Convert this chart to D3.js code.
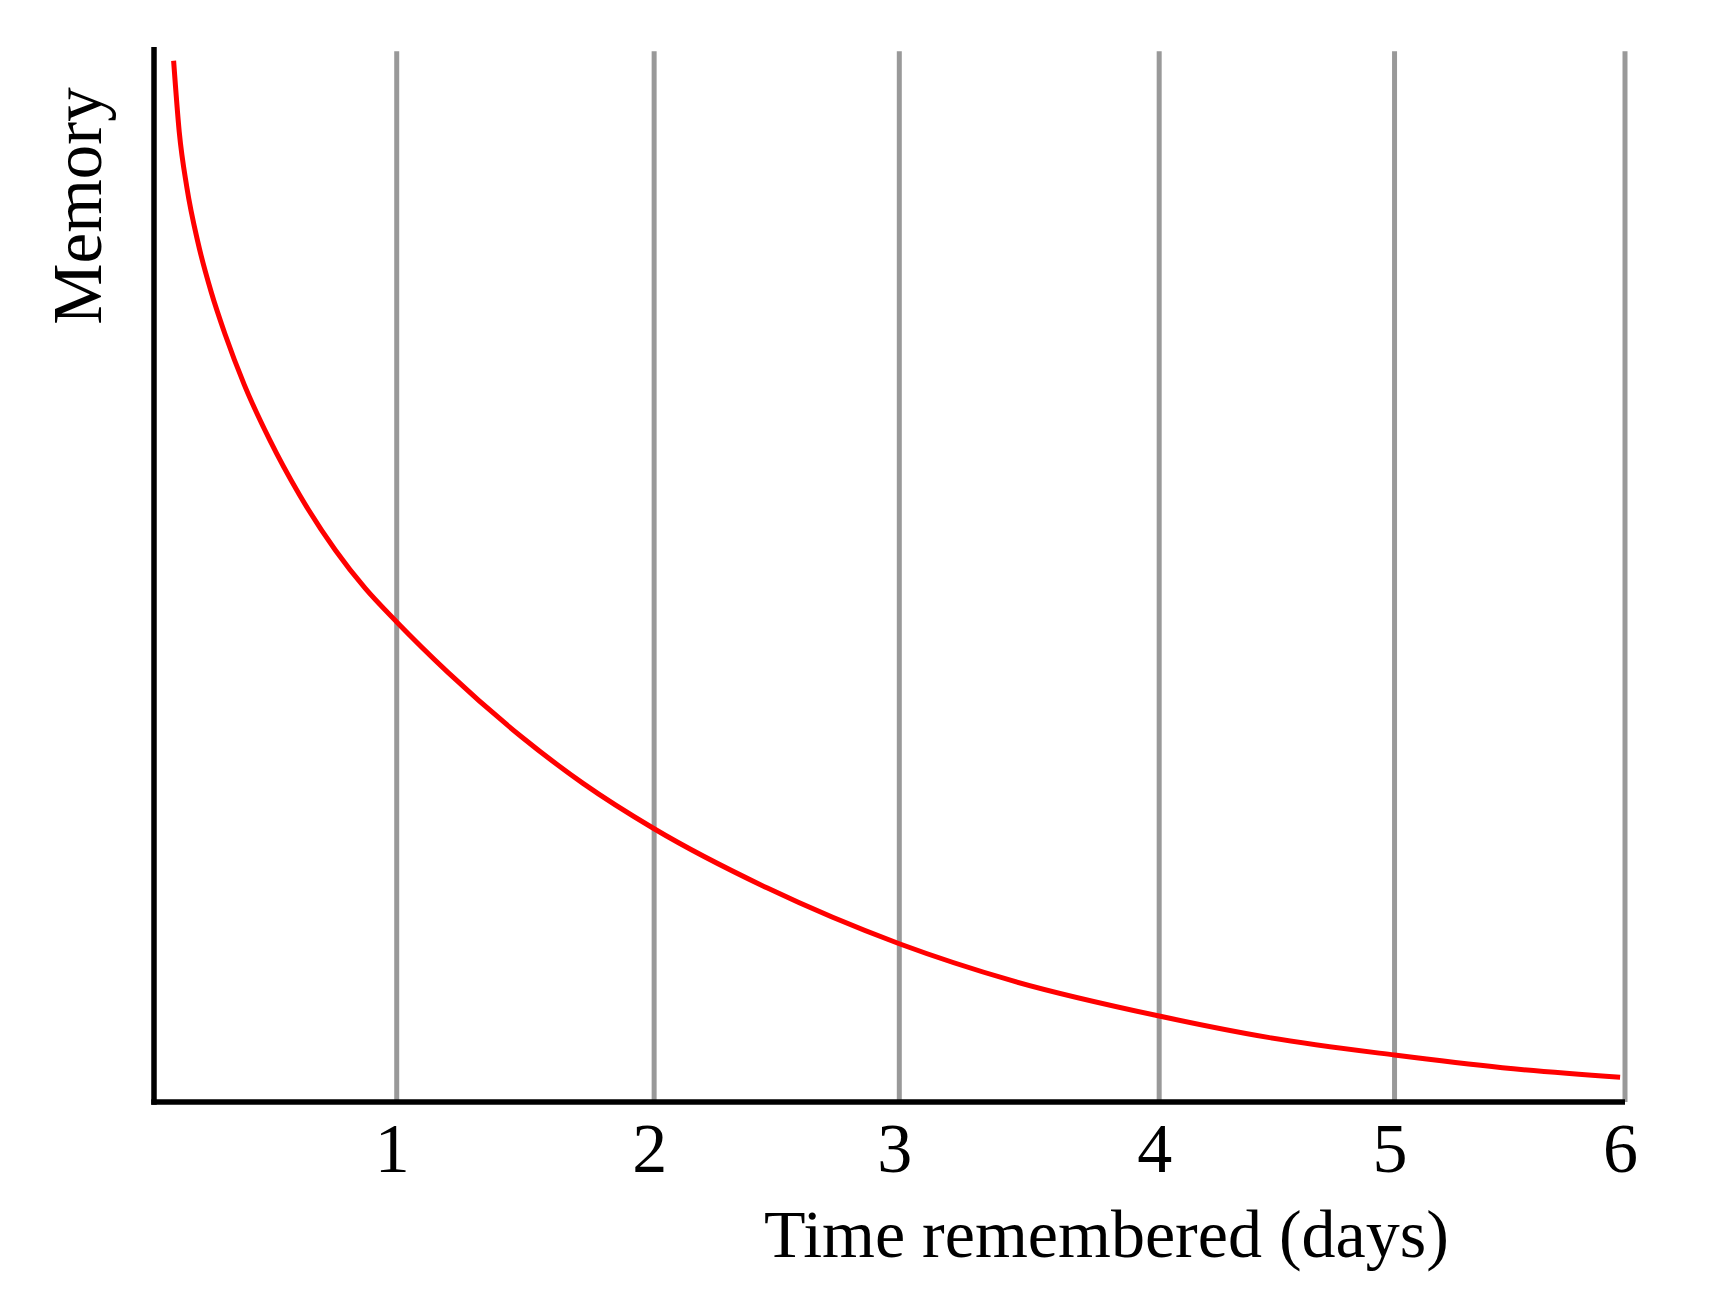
<!DOCTYPE html>
<html>
<head>
<meta charset="utf-8">
<script src="https://cdn.jsdelivr.net/npm/d3@7/dist/d3.min.js"></script>
<style>
  html, body { margin: 0; padding: 0; background: #ffffff; }
  svg { display: block; }
  text { font-family: "Liberation Serif", "Times New Roman", serif; fill: #000; }
</style>
</head>
<body>
<svg id="chart" width="1724" height="1314"></svg>
<script>
// ---- data ----
// gridline positions in days, as drawn
const gridDays = [0.99, 2.04, 3.04, 4.1, 5.06, 6.0];
const tickLabels = ["1", "2", "3", "4", "5", "6"];
// forgetting curve: days elapsed
const curveDays = [0.08, 0.103, 0.134, 0.179, 0.233, 0.291, 0.368, 0.471, 0.592, 0.74, 0.861, 0.99,
                   1.2, 1.5, 1.75, 2.04, 2.5, 3.04, 3.5, 4.1, 4.55, 5.06, 5.5, 5.98];
// memory retained (% of original)
const curveMemory = [98.7, 91.95, 86.7, 81.5, 76.8, 72.7, 68.0, 62.8, 57.6, 52.3, 48.7, 45.5,
                     40.7, 34.6, 30.2, 25.9, 20.3, 15.0, 11.5, 8.15, 6.1, 4.45, 3.25, 2.34];
const xTitle = "Time remembered (days)";
const yTitle = "Memory";

// ---- layout ----
const svg = d3.select("#chart");
const x = d3.scaleLinear().domain([0, 6]).range([154, 1625]);
const y = d3.scaleLinear().domain([0, 100]).range([1102, 47]);

// gridlines
svg.append("g").selectAll("line")
  .data(gridDays)
  .join("line")
  .attr("x1", d => x(d)).attr("x2", d => x(d))
  .attr("y1", y(0)).attr("y2", y(99.6))
  .attr("stroke", "#999999")
  .attr("stroke-width", 5);

// curve
const pts = curveDays.map((d, i) => [d, curveMemory[i]]);
svg.append("path")
  .datum(pts)
  .attr("fill", "none")
  .attr("stroke", "#ff0000")
  .attr("stroke-width", 5)
  .attr("d", d3.line().x(d => x(d[0])).y(d => y(d[1])).curve(d3.curveMonotoneX));

// x axis (domain line + labels)
const xAxis = d3.axisBottom(x)
  .tickValues(gridDays)
  .tickFormat((d, i) => tickLabels[i])
  .tickSize(0)
  .tickPadding(70);
const gx = svg.append("g").attr("transform", `translate(0,${y(0)})`).call(xAxis);
gx.select(".domain")
  .attr("d", `M${x(0) - 2.75},0H${x(6)}`)
  .attr("stroke", "#000").attr("stroke-width", 5.5);
gx.selectAll(".tick text")
  .attr("font-family", "Liberation Serif, Times New Roman, serif")
  .attr("font-size", 70)
  .attr("fill", "#000")
  .attr("dy", 0)
  .attr("dx", -5);

// y axis (domain line only)
const yAxis = d3.axisLeft(y).tickValues([]).tickSize(0);
const gy = svg.append("g").attr("transform", `translate(${x(0)},0)`).call(yAxis);
gy.select(".domain")
  .attr("d", `M0,${y(0) + 2.75}V${y(100)}`)
  .attr("stroke", "#000").attr("stroke-width", 5.5);

// titles
svg.append("text")
  .attr("x", 764).attr("y", 1257)
  .attr("font-size", 68)
  .text(xTitle);

svg.append("text")
  .attr("transform", "translate(101,206) rotate(-90)")
  .attr("text-anchor", "middle")
  .attr("font-size", 69)
  .text(yTitle);
</script>
</body>
</html>
